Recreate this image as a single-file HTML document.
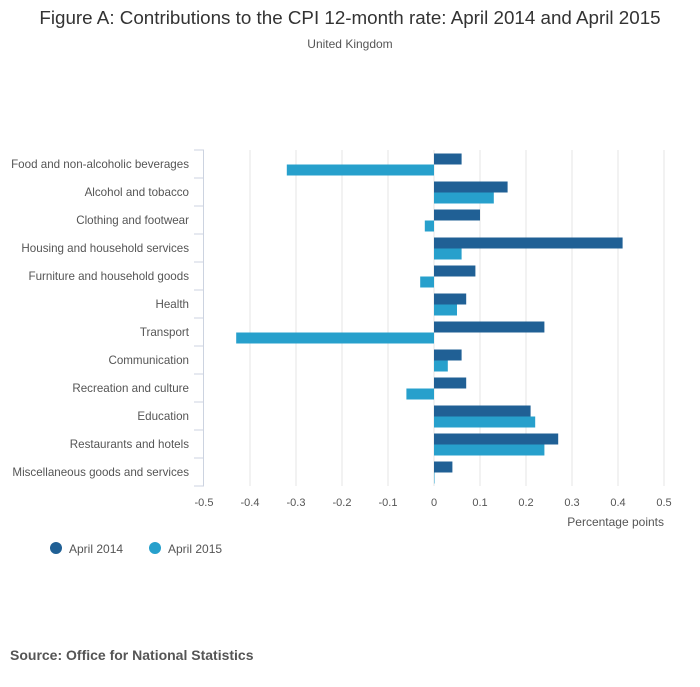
<!DOCTYPE html>
<html><head><meta charset="utf-8"><style>
body{margin:0;background:#fff;font-family:"Liberation Sans",sans-serif;}
</style></head><body>
<svg width="700" height="682" xmlns="http://www.w3.org/2000/svg" font-family="Liberation Sans, sans-serif">
<text x="350" y="24" text-anchor="middle" font-size="18.8" fill="#333">Figure A: Contributions to the CPI 12-month rate: April 2014 and April 2015</text>
<text x="350" y="48" text-anchor="middle" font-size="12" fill="#555">United Kingdom</text>
<g id="grid"></g><g id="bars"></g><g id="axes"></g>
<text x="664" y="526" text-anchor="end" font-size="12" fill="#555">Percentage points</text>
<g>
<circle cx="56" cy="548" r="6" fill="#206095"/>
<text x="69" y="553" font-size="12" fill="#555">April 2014</text>
<circle cx="155" cy="548" r="6" fill="#27a0cc"/>
<text x="168" y="553" font-size="12" fill="#555">April 2015</text>
</g>
<text x="10" y="660" font-size="14" font-weight="bold" fill="#555">Source: Office for National Statistics</text>
</svg>
<script>
const categories=["Food and non-alcoholic beverages","Alcohol and tobacco","Clothing and footwear","Housing and household services","Furniture and household goods","Health","Transport","Communication","Recreation and culture","Education","Restaurants and hotels","Miscellaneous goods and services"];
const april2014=[0.06,0.16,0.10,0.41,0.09,0.07,0.24,0.06,0.07,0.21,0.27,0.04];
const april2015=[-0.32,0.13,-0.02,0.06,-0.03,0.05,-0.43,0.03,-0.06,0.22,0.24,0.00];
const ticks=[-0.5,-0.4,-0.3,-0.2,-0.1,0,0.1,0.2,0.3,0.4,0.5];
const NS="http://www.w3.org/2000/svg";
const x0=204,x1=664,topY=150,band=28;
const xs=v=>x0+(v+0.5)/1*(x1-x0);
const ys=i=>topY+i*band;
function mk(t,a,p){const e=document.createElementNS(NS,t);for(const k in a)e.setAttribute(k,a[k]);document.getElementById(p).appendChild(e);return e;}
const H=topY+band*categories.length;
ticks.forEach(t=>{
 if(t!==-0.5){const g=mk('line',{x1:xs(t),x2:xs(t),y1:topY,y2:H,stroke:'#e4e4e4','stroke-width':1},'grid');
 
 }
 const l=mk('text',{x:xs(t),y:H+20,'text-anchor':'middle','font-size':11,fill:'#555'},'axes');
 l.textContent=t===0?'0':t.toString();
 
 
});
categories.forEach((c,i)=>{
 const y=ys(i);
 const b1=mk('rect',{x:Math.min(xs(0),xs(april2014[i])),y:y+3.5,width:Math.max(Math.abs(xs(april2014[i])-xs(0)),0.5),height:11,fill:'#206095'},'bars');
 
 
 const b2=mk('rect',{x:Math.min(xs(0),xs(april2015[i])),y:y+14.5,width:Math.max(Math.abs(xs(april2015[i])-xs(0)),0.5),height:11,fill:'#27a0cc'},'bars');
 
 
 const t=mk('text',{x:189,y:y+18,'text-anchor':'end','font-size':11.6,fill:'#555'},'axes');
 t.textContent=c;
 
 
});
for(let i=0;i<=categories.length;i++){const tk=mk('line',{x1:194,x2:204,y1:ys(i),y2:ys(i),stroke:'#ccd3e0','stroke-width':1},'axes');
 
 }
const ax=mk('line',{x1:203.5,x2:203.5,y1:topY,y2:H,stroke:'#ccd3e0','stroke-width':1},'axes');


</script>
</body></html>
